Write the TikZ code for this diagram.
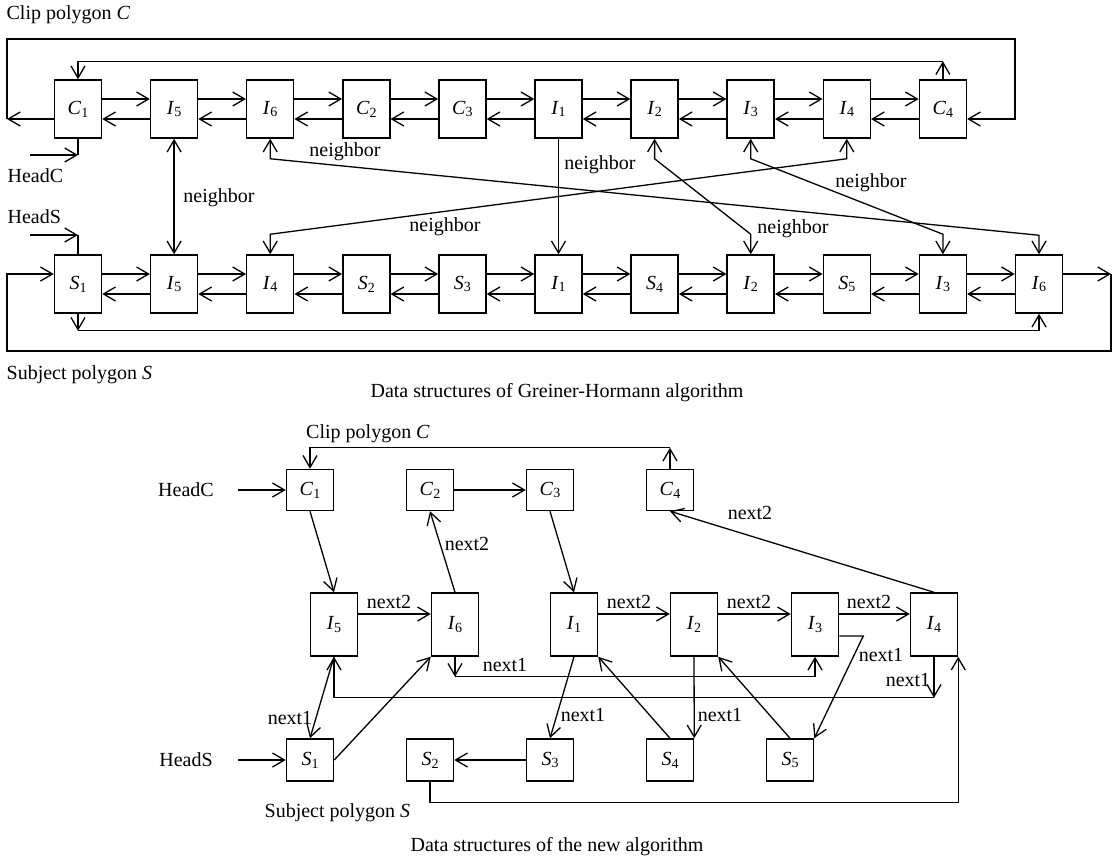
\documentclass[tikz,border=0pt]{standalone}
\usepackage{fontspec}
\setmainfont{Liberation Serif}
\usetikzlibrary{arrows.meta,calc}
\newcommand\nm[2]{\textit{#1}\raisebox{-0.3ex}{\fontsize{14}{14}\selectfont #2}}
\begin{document}
\begin{tikzpicture}[x=1pt,y=-1pt,line width=1.3pt,font=\fontsize{20}{24}\selectfont,
  arr/.style={-{Straight Barb[length=12pt,width=14pt]}},
  arrb/.style={{Straight Barb[length=12pt,width=14pt]}-{Straight Barb[length=12pt,width=14pt]}},
  tbox/.style={draw,line width=1.5pt,minimum width=47pt,minimum height=58pt,inner sep=0pt},
  cbox/.style={draw,line width=1.5pt,minimum width=47pt,minimum height=41pt,inner sep=0pt},
  ibox/.style={draw,line width=1.5pt,minimum width=47pt,minimum height=63pt,inner sep=0pt},
  lbl/.style={inner sep=1pt}]
\useasboundingbox (0,0) rectangle (1118,857);
% ================= top figure =================
\node[lbl,anchor=west] (clipT) at (5,15) {Clip polygon \textit{C}};
\foreach \n/\a/\b [count=\i from 0] in {tC1/C/1,tI5/I/5,tI6/I/6,tC2/C/2,tC3/C/3,tI1/I/1,tI2/I/2,tI3/I/3,tI4/I/4,tC4/C/4}
  \node[tbox] (\n) at ({78+96.1*\i},109) {\nm{\a}{\b}};
\foreach \n/\a/\b [count=\i from 0] in {bS1/S/1,bI5/I/5,bI4/I/4,bS2/S/2,bS3/S/3,bI1/I/1,bS4/S/4,bI2/I/2,bS5/S/5,bI3/I/3,bI6/I/6}
  \node[tbox] (\n) at ({78+96.1*\i},284) {\nm{\a}{\b}};
\foreach \a/\b in {tC1/tI5,tI5/tI6,tI6/tC2,tC2/tC3,tC3/tI1,tI1/tI2,tI2/tI3,tI3/tI4,tI4/tC4,
                   bS1/bI5,bI5/bI4,bI4/bS2,bS2/bS3,bS3/bI1,bI1/bS4,bS4/bI2,bI2/bS5,bS5/bI3,bI3/bI6}{
  \draw[arr] ([yshift=10pt]\a.east) -- ([yshift=10pt]\b.west);
  \draw[arr] ([yshift=-10pt]\b.west) -- ([yshift=-10pt]\a.east);
}
% top loops
\coordinate (tl) at (7,119); \coordinate (tlt) at (7,39);
\coordinate (trt) at (1015,39); \coordinate (tr) at (1015,119);
\draw[arr] ([yshift=-10pt]tC1.west) -- (tl);
\draw[arr] (tl) -- (tlt) -- (trt) -- (tr) -- ([yshift=-10pt]tC4.east);
\draw[arr] (tC4.north) -- ++(0,-18) coordinate (c4t);
\draw[arr] (c4t) -| (tC1.north);
% HeadC
\node[lbl,anchor=west] (headCT) at (6,176) {HeadC};
\coordinate (hc) at (30,155);
\draw[arr] (hc) -- (tC1.south |- hc);
\draw (tC1.south) -- (tC1.south |- hc);
% HeadS
\node[lbl,anchor=west] (headST) at (6,217) {HeadS};
\coordinate (hs) at (30,235);
\draw[arr] (hs) -- (bS1.north |- hs);
\draw (bS1.north |- hs) -- (bS1.north);
% bottom loops
\draw[arr] (bS1.south) -- ++(0,17) coordinate (s1b);
\draw[arr] (s1b) -| (bI6.south);
\coordinate (rr) at (1111,274); \coordinate (rb) at (1111,351);
\coordinate (lb) at (7,351); \coordinate (lt) at (7,274);
\draw[arr] ([yshift=10pt]bI6.east) -- (rr);
\draw[arr] (rr) -- (rb) -- (lb) -- (lt) -- ([yshift=10pt]bS1.west);
\node[lbl,anchor=west] (subjT) at (5,375) {Subject polygon \textit{S}};
% neighbor links
\draw[arrb] (tI5.south) -- (bI5.north);
\node[lbl] (nb1) at (219,198) {neighbor};
\draw[arrb] (tI6.south) -- ++(0,20) -- ($(bI6.north)+(0,-19)$) -- (bI6.north);
\node[lbl] (nb2) at (345,152) {neighbor};
\draw[arr] (tI1.south) -- (bI1.north);
\node[lbl] (nb3) at (600,165) {neighbor};
\draw[arrb] (tI2.south) -- ++(0,20) -- ($(bI2.north)+(0,-20)$) -- (bI2.north);
\node[lbl] (nb4) at (793,229) {neighbor};
\draw[arrb] (tI3.south) -- ++(0,20) -- ($(bI3.north)+(0,-20)$) -- (bI3.north);
\node[lbl] (nb5) at (871,183) {neighbor};
\draw[arrb] (tI4.south) -- ++(0,20) -- ($(bI4.north)+(0,-20)$) -- (bI4.north);
\node[lbl] (nb6) at (445,227) {neighbor};
\node[lbl] (cap1) at (557,393) {Data structures of Greiner-Hormann algorithm};
% ================= bottom figure =================
\node[lbl] (clipB) at (368,434) {Clip polygon \textit{C}};
\foreach \n/\a/\b/\x in {nC1/C/1/310,nC2/C/2/430,nC3/C/3/550,nC4/C/4/670}
  \node[cbox] (\n) at (\x,490) {\nm{\a}{\b}};
\foreach \n/\a/\b/\x in {nI5/I/5/334,nI6/I/6/455,nI1/I/1/574,nI2/I/2/694,nI3/I/3/815,nI4/I/4/934}
  \node[ibox] (\n) at (\x,624.5) {\nm{\a}{\b}};
\foreach \n/\a/\b/\x in {nS1/S/1/310,nS2/S/2/430,nS3/S/3/550,nS4/S/4/670,nS5/S/5/790}
  \node[cbox,minimum height=42pt] (\n) at (\x,760) {\nm{\a}{\b}};
\draw[arr] (nC4.north) -- ++(0,-21) coordinate (c4u);
\draw[arr] (c4u) -| (nC1.north);
\node[lbl] (headCB) at (186,490) {HeadC};
\coordinate (hcb) at (238,490);
\draw[arr] (hcb) -- (nC1.west);
\draw[arr] (nC2.east) -- (nC3.west);
\draw[arr] (nC1.south) -- (nI5.north);
\draw[arr] (nC3.south) -- (nI1.north);
\draw[arr] (nI6.north) -- (nC2.south);
\node[lbl] (n2a) at (467,544) {next2};
\draw[arr] (nI4.north) -- (nC4.south);
\node[lbl] (n2b) at (750,513) {next2};
\foreach \a/\b/\x in {nI5/nI6/389,nI1/nI2/629,nI2/nI3/749,nI3/nI4/869}{
  \draw[arr] ([yshift=10.5pt]\a.east) -- ([yshift=10.5pt]\b.west);
  \node[lbl] at (\x,602) {next2};
}
% next1
\draw[arr] (nI6.south) -- ++(0,20) coordinate (i6d);
\draw[arr] (i6d) -| (nI3.south);
\node[lbl] (n1a) at (505,665) {next1};
\draw[arr] (nI4.south) -- ++(0,41) coordinate (i4d);
\draw[arr] (i4d) -| (nI5.south);
\node[lbl] (n1b) at (908,680) {next1};
\draw[arr] (nI5.south) -- (nS1.north);
\node[lbl] (n1c) at (290,718) {next1};
\draw[arr] (nS1.east) -- (nI6.south west);
\draw[arr] (nI1.south) -- (nS3.north);
\node[lbl] (n1d) at (583,715) {next1};
\draw[arr] (nS4.north) -- (nI1.south east);
\draw[arr] (nI2.south) -- (nS4.north east);
\node[lbl] (n1e) at (720,715) {next1};
\draw[arr] (nS5.north) -- (nI2.south east);
\draw[arr] ([yshift=-11.5pt]nI3.east) -- ++(24,0) coordinate (i3r) -- (nS5.north east);
\node[lbl] (n1f) at (881,655) {next1};
\node[lbl] (headSB) at (186,760) {HeadS};
\coordinate (hsb) at (238,760);
\draw[arr] (hsb) -- (nS1.west);
\draw[arr] (nS3.west) -- (nS2.east);
\draw[arr] (nS2.south) -- ++(0,21) coordinate (s2d) -| (nI4.south east);
\node[lbl,anchor=west] (subjB) at (263,813) {Subject polygon \textit{S}};
\node[lbl] (cap2) at (557,847) {Data structures of the new algorithm};
\end{tikzpicture}
\end{document}
